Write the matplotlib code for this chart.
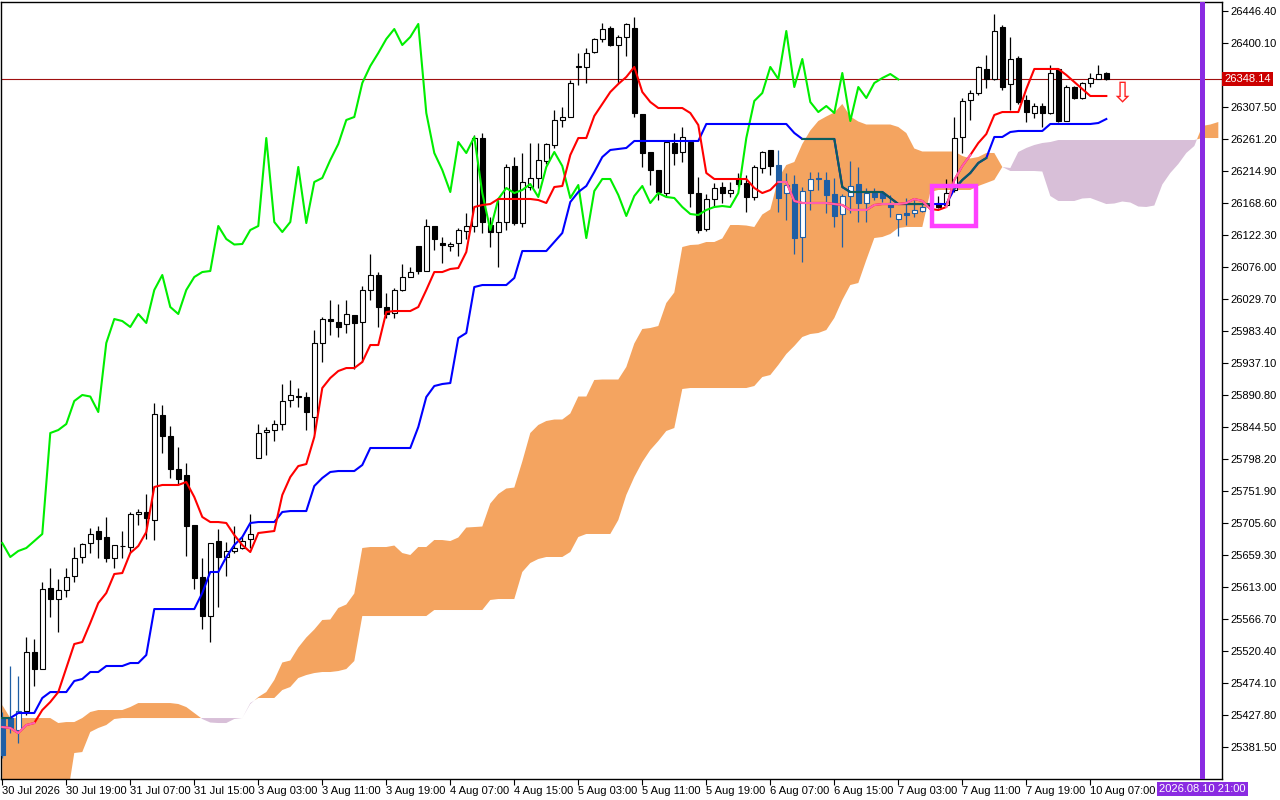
import numpy as np
import matplotlib
matplotlib.use('Agg')
import matplotlib.pyplot as plt
from matplotlib.patches import Rectangle

plt.rcParams['font.family'] = ['Liberation Sans', 'DejaVu Sans']

# H1 candles, bar 0 = 30 Jul 2026 ... bar 138 = 10 Aug 09:00
opens = [
    25424.1, 25424.1, 25406.8, 25434.3, 25519.6, 25495.0, 25612.2, 25596.3, 25609.3, 25629.6,
    25657.1, 25677.3, 25694.7, 25686.0, 25655.6, 25672.3, 25671.5, 25719.3, 25722.2, 25710.6,
    25862.5, 25832.2, 25784.4, 25775.7, 25703.4, 25628.1, 25571.7, 25680.2, 25657.1, 25665.8,
    25670.1, 25683.1, 25800.3, 25837.9, 25840.8, 25849.5, 25884.2, 25890.0, 25888.6, 25859.6,
    25966.7, 26001.4, 25997.1, 25994.2, 26007.2, 25997.1, 26043.4, 26065.1, 26018.8, 26010.1,
    26043.4, 26062.2, 26107.1, 26070.9, 26136.0, 26111.4, 26107.1, 26111.4, 26128.8, 26136.0,
    26263.3, 26137.4, 26127.3, 26141.8, 26222.8, 26140.3, 26192.4, 26205.5, 26230.0, 26253.2,
    26289.4, 26293.7, 26366.1, 26366.1, 26387.8, 26406.6, 26422.5, 26397.9, 26409.5, 26422.5,
    26298.1, 26243.1, 26217.0, 26183.7, 26256.1, 26243.1, 26257.5, 26183.7, 26131.7, 26175.1,
    26192.4, 26183.7, 26204.0, 26198.2, 26178.0, 26219.9, 26246.0, 26224.3, 26183.7, 26196.8,
    26120.1, 26188.1, 26205.5, 26202.6, 26182.3, 26153.4, 26179.4, 26196.8, 26169.3, 26183.7,
    26183.7, 26169.3, 26146.1, 26154.8, 26154.8, 26157.7, 26166.4, 26169.3, 26166.4, 26188.1,
    26264.8, 26318.3, 26328.4, 26363.2, 26348.7, 26423.9, 26341.5, 26379.1, 26318.3, 26299.5,
    26309.6, 26299.5, 26363.2, 26287.9, 26337.1, 26321.2, 26342.9, 26348.7, 26357.4]
highs = [
    25432.8, 25499.4, 25484.9, 25541.3, 25538.4, 25620.9, 25641.2, 25625.2, 25641.2, 25671.5,
    25677.3, 25699.0, 25701.9, 25715.0, 25674.4, 25694.7, 25722.2, 25726.5, 25748.2, 25879.9,
    25877.0, 25846.6, 25816.2, 25793.1, 25703.4, 25655.6, 25677.3, 25697.6, 25678.8, 25701.9,
    25686.0, 25719.3, 25849.5, 25845.2, 25855.3, 25907.4, 25913.2, 25901.6, 25895.8, 25985.5,
    26004.3, 26028.9, 26023.1, 26028.9, 26007.2, 26049.2, 26095.5, 26069.4, 26039.1, 26046.3,
    26081.0, 26076.7, 26107.1, 26146.1, 26136.0, 26120.1, 26112.9, 26133.1, 26154.8, 26267.7,
    26270.6, 26149.0, 26173.6, 26225.7, 26235.8, 26241.6, 26256.1, 26256.1, 26256.1, 26303.8,
    26308.2, 26347.2, 26386.3, 26393.5, 26408.0, 26429.7, 26425.4, 26412.4, 26429.7, 26438.4,
    26298.1, 26243.1, 26217.0, 26260.4, 26270.6, 26279.2, 26257.5, 26206.9, 26182.3, 26198.2,
    26199.7, 26199.7, 26212.7, 26209.8, 26224.3, 26244.5, 26246.0, 26246.0, 26212.7, 26209.8,
    26192.4, 26214.1, 26214.1, 26214.1, 26205.5, 26182.3, 26230.0, 26221.4, 26191.0, 26191.0,
    26186.6, 26180.9, 26153.4, 26176.5, 26173.6, 26167.8, 26169.3, 26179.4, 26204.0, 26293.7,
    26321.2, 26332.8, 26367.5, 26383.4, 26442.7, 26426.8, 26409.5, 26382.0, 26325.5, 26314.0,
    26314.0, 26369.0, 26364.6, 26340.0, 26338.6, 26344.4, 26357.4, 26369.0, 26358.8]
lows = [
    25366.2, 25402.4, 25388.0, 25428.5, 25470.4, 25495.0, 25570.3, 25548.6, 25599.2, 25620.9,
    25648.4, 25662.9, 25655.6, 25649.8, 25641.2, 25655.6, 25662.9, 25703.4, 25683.1, 25681.7,
    25807.6, 25771.4, 25762.7, 25658.5, 25610.8, 25552.9, 25534.1, 25584.7, 25629.6, 25662.9,
    25668.7, 25670.1, 25800.3, 25804.7, 25824.9, 25840.8, 25874.1, 25874.1, 25840.8, 25836.5,
    25939.2, 25978.3, 25975.4, 25981.2, 25929.1, 25939.2, 26028.9, 25989.9, 26002.9, 26002.9,
    26042.0, 26062.2, 26066.6, 26070.9, 26101.3, 26082.5, 26099.8, 26092.6, 26117.2, 26127.3,
    26125.9, 26105.6, 26076.7, 26130.2, 26137.4, 26134.6, 26188.1, 26191.0, 26225.7, 26248.9,
    26279.2, 26293.7, 26340.0, 26342.9, 26386.3, 26402.2, 26396.4, 26342.9, 26382.0, 26293.7,
    26221.4, 26195.3, 26173.6, 26178.0, 26224.3, 26228.6, 26163.5, 26125.9, 26128.8, 26163.5,
    26169.3, 26178.0, 26192.4, 26156.3, 26173.6, 26212.7, 26209.8, 26156.3, 26144.7, 26095.5,
    26083.9, 26159.2, 26188.1, 26154.8, 26134.6, 26105.6, 26154.8, 26141.8, 26141.8, 26173.6,
    26170.7, 26149.0, 26121.5, 26137.4, 26149.0, 26156.3, 26162.0, 26162.0, 26164.9, 26185.2,
    26241.6, 26289.4, 26325.5, 26335.7, 26347.2, 26332.8, 26303.8, 26312.5, 26286.5, 26292.3,
    26279.2, 26298.1, 26286.5, 26287.9, 26319.8, 26319.8, 26337.1, 26348.7, 26347.2]
closes = [
    25370.6, 25409.7, 25434.3, 25519.6, 25495.0, 25610.8, 25596.3, 25609.3, 25628.1, 25655.6,
    25675.9, 25690.4, 25683.1, 25655.6, 25674.4, 25673.0, 25719.3, 25722.2, 25713.5, 25864.0,
    25832.2, 25784.4, 25769.9, 25701.9, 25626.7, 25571.7, 25677.3, 25657.1, 25665.8, 25670.1,
    25680.2, 25690.4, 25836.5, 25840.8, 25849.5, 25882.8, 25891.5, 25889.3, 25866.9, 25966.7,
    26001.4, 25998.5, 25989.9, 26008.7, 25995.7, 26043.4, 26065.1, 26018.8, 26008.7, 26043.4,
    26062.2, 26069.4, 26070.9, 26136.0, 26117.2, 26109.2, 26110.0, 26130.2, 26136.0, 26263.3,
    26141.8, 26127.3, 26141.8, 26221.4, 26140.3, 26199.7, 26205.5, 26231.5, 26254.6, 26289.4,
    26293.7, 26342.9, 26367.5, 26386.3, 26406.6, 26421.0, 26397.9, 26409.5, 26428.3, 26299.5,
    26241.6, 26217.0, 26185.2, 26257.5, 26241.6, 26264.8, 26183.7, 26130.2, 26175.1, 26191.0,
    26183.7, 26188.1, 26196.8, 26178.0, 26221.4, 26243.1, 26222.8, 26176.5, 26195.3, 26118.6,
    26186.6, 26204.0, 26204.0, 26180.9, 26150.5, 26179.4, 26193.9, 26169.3, 26183.7, 26178.0,
    26176.5, 26163.5, 26153.4, 26151.9, 26159.2, 26163.5, 26164.9, 26163.5, 26183.7, 26263.3,
    26316.9, 26328.4, 26366.1, 26348.7, 26418.1, 26337.1, 26377.6, 26315.4, 26300.9, 26309.6,
    26299.5, 26357.4, 26287.9, 26337.1, 26321.2, 26342.9, 26350.1, 26355.9, 26348.14]

# Ichimoku lines
tenkan = [
    25411.1, 25409.7, 25402.4, 25414.0, 25416.9, 25435.7, 25447.3, 25461.7, 25496.5, 25531.2,
    25534.1, 25561.6, 25590.5, 25605.0, 25632.5, 25633.9, 25662.9, 25673.0, 25693.2, 25758.4,
    25761.3, 25761.3, 25761.3, 25765.6, 25743.9, 25715.0, 25707.7, 25707.7, 25706.3, 25688.9,
    25674.4, 25664.3, 25691.8, 25693.2, 25694.7, 25746.8, 25772.8, 25788.7, 25791.6, 25830.7,
    25901.6, 25916.1, 25926.2, 25930.5, 25930.5, 25939.2, 25963.8, 25963.8, 26011.6, 26013.0,
    26013.0, 26013.0, 26018.8, 26043.4, 26069.4, 26069.4, 26073.8, 26075.2, 26098.4, 26163.5,
    26166.4, 26167.8, 26175.1, 26175.1, 26175.1, 26175.1, 26175.1, 26173.6, 26169.3, 26192.4,
    26193.9, 26238.7, 26263.3, 26263.3, 26295.2, 26312.5, 26329.9, 26341.5, 26351.6, 26366.1,
    26329.9, 26315.4, 26306.7, 26306.7, 26306.7, 26306.7, 26299.5, 26282.1, 26212.7, 26204.0,
    26204.0, 26204.0, 26204.0, 26204.0, 26191.0, 26183.7, 26188.1, 26199.7, 26199.7, 26172.2,
    26169.3, 26169.3, 26169.3, 26169.3, 26167.8, 26166.4, 26159.2, 26159.2, 26159.2, 26166.4,
    26167.8, 26167.8, 26167.8, 26169.3, 26175.1, 26172.2, 26160.6, 26159.2, 26163.5, 26202.6,
    26222.8, 26238.7, 26256.1, 26269.1, 26296.6, 26300.9, 26300.9, 26300.9, 26334.2, 26363.2,
    26363.2, 26363.2, 26363.2, 26354.5, 26344.4, 26334.2, 26324.1, 26324.1, 26324.1]
kijun = [
    25424.1, 25424.1, 25431.4, 25431.4, 25431.4, 25453.1, 25461.7, 25461.7, 25461.7, 25477.7,
    25480.6, 25490.7, 25490.7, 25499.4, 25499.4, 25499.4, 25503.7, 25503.7, 25515.3, 25581.8,
    25581.8, 25581.8, 25581.8, 25581.8, 25581.8, 25605.0, 25635.4, 25635.4, 25657.1, 25674.4,
    25686.0, 25706.3, 25707.7, 25707.7, 25707.7, 25722.2, 25723.6, 25723.6, 25723.6, 25759.8,
    25771.4, 25780.1, 25781.5, 25781.5, 25781.5, 25790.2, 25814.8, 25814.8, 25814.8, 25814.8,
    25814.8, 25814.8, 25845.2, 25888.6, 25904.5, 25907.4, 25908.8, 25973.9, 25981.2, 26047.7,
    26050.6, 26050.6, 26050.6, 26050.6, 26060.8, 26099.8, 26099.8, 26099.8, 26099.8, 26112.9,
    26125.9, 26170.7, 26185.2, 26193.9, 26214.1, 26235.8, 26246.0, 26247.4, 26248.9, 26259.0,
    26259.0, 26259.0, 26259.0, 26259.0, 26259.0, 26259.0, 26259.0, 26259.0, 26283.6, 26283.6,
    26283.6, 26283.6, 26283.6, 26283.6, 26283.6, 26283.6, 26283.6, 26283.6, 26283.6, 26270.6,
    26261.9, 26261.9, 26261.9, 26261.9, 26261.9, 26192.4, 26185.2, 26185.2, 26185.2, 26185.2,
    26185.2, 26176.5, 26167.8, 26167.8, 26167.8, 26167.8, 26167.8, 26167.8, 26167.8, 26189.5,
    26202.6, 26212.7, 26227.2, 26234.4, 26264.8, 26264.8, 26272.0, 26273.5, 26273.5, 26273.5,
    26273.5, 26283.6, 26283.6, 26283.6, 26283.6, 26283.6, 26283.6, 26285.0, 26290.8]

# span A for the first 26 bars (comes from history before the window)
senkou_a_early = [
    25442.9, 25424.1, 25424.1, 25424.1, 25424.1, 25424.1, 25424.1, 25416.9, 25418.3, 25418.3,
    25424.1, 25432.8, 25435.7, 25435.7, 25435.7, 25435.7, 25440.0, 25445.8, 25445.8, 25445.8,
    25445.8, 25445.8, 25444.4, 25440.0, 25431.4, 25422.7]
senkou_b = [
    25300.0, 25300.0, 25300.0, 25300.0, 25300.0, 25300.0, 25300.0, 25300.0, 25300.0, 25373.5,
    25374.9, 25403.9, 25409.7, 25414.0, 25422.7, 25424.1, 25424.1, 25424.1, 25424.1, 25424.1,
    25424.1, 25424.1, 25424.1, 25424.1, 25424.1, 25424.1, 25424.1, 25424.1, 25424.1, 25424.1,
    25424.1, 25445.8, 25453.1, 25453.1, 25453.1, 25464.6, 25469.0, 25482.0, 25486.3, 25489.2,
    25490.7, 25490.7, 25492.1, 25495.0, 25506.6, 25571.7, 25571.7, 25571.7, 25571.7, 25571.7,
    25571.7, 25571.7, 25571.7, 25571.7, 25580.4, 25580.4, 25580.4, 25580.4, 25580.4, 25580.4,
    25580.4, 25594.9, 25596.3, 25596.3, 25596.3, 25635.4, 25648.4, 25654.2, 25657.1, 25657.1,
    25657.1, 25664.3, 25686.0, 25690.4, 25690.4, 25690.4, 25690.4, 25710.6, 25746.8, 25772.8,
    25794.5, 25811.9, 25824.9, 25839.4, 25843.7, 25900.2, 25901.6, 25901.6, 25901.6, 25901.6,
    25901.6, 25901.6, 25901.6, 25901.6, 25904.5, 25917.5, 25920.4, 25934.9, 25950.8, 25962.4,
    25975.4, 25979.7, 25981.2, 25985.5, 26002.9, 26028.9, 26050.6, 26053.5, 26086.8, 26118.6,
    26120.1, 26124.4, 26133.1, 26134.6, 26134.6, 26134.6, 26185.2, 26188.1, 26188.1, 26188.1,
    26188.1, 26188.1, 26193.9, 26198.2, 26202.6, 26221.4, 26219.9, 26243.1, 26248.9, 26253.2,
    26256.1, 26257.5, 26260.4, 26260.4, 26260.4, 26260.4, 26260.4, 26260.4, 26260.4, 26260.4,
    26260.4, 26260.4, 26260.4, 26260.4, 26260.4, 26260.4, 26260.4, 26260.4, 26260.4, 26260.4,
    26263.3, 26263.3, 26263.3]

# bars where the helper indicator recolours things
candle_marked = [(0, 2), (97, 115)]
tenkan_marked = [(0, 4), (97, 116), (118, 121)]
kijun_marked = [(0, 1), (100, 116), (119, 123)]

price_ticks = [26446.40, 26400.10, 26353.80, 26307.50, 26261.20, 26214.90, 26168.60, 26122.30,
               26076.00, 26029.70, 25983.40, 25937.10, 25890.80, 25844.50, 25798.20, 25751.90,
               25705.60, 25659.30, 25613.00, 25566.70, 25520.40, 25474.10, 25427.80, 25381.50]
time_ticks = [0, 8, 16, 24, 32, 40, 48, 56, 64, 72, 80, 88, 96, 104, 112, 120, 128, 136]
time_labels = ['30 Jul 2026', '30 Jul 19:00', '31 Jul 07:00', '31 Jul 15:00', '3 Aug 03:00',
               '3 Aug 11:00', '3 Aug 19:00', '4 Aug 07:00', '4 Aug 15:00', '5 Aug 03:00',
               '5 Aug 11:00', '5 Aug 19:00', '6 Aug 07:00', '6 Aug 15:00', '7 Aug 03:00',
               '7 Aug 11:00', '7 Aug 19:00', '10 Aug 07:00']

vline_bar = 150
vline_label = '2026.08.10 21:00'
box_bars = (116.2, 121.7)
box_prices = (26136.0, 26193.9)
signal_bar = 140
signal_price = 26327.0

o = np.array(opens)
h = np.array(highs)
l = np.array(lows)
c = np.array(closes)
n = len(c)
bars = np.arange(n)

fig = plt.figure(figsize=(12.8, 8), dpi=100)
ax = fig.add_axes([1 / 1280, 21 / 800, 1221 / 1280, 777 / 800])
ax.set_xlim(-0.16, 152.46)
ax.set_ylim(25335.9, 26460.1)

# cloud: span A = (tenkan + kijun)/2 pushed 26 bars ahead
span_b = np.array(senkou_b)
span_a = np.concatenate([senkou_a_early, (np.array(tenkan) + np.array(kijun)) / 2])[:len(span_b)]
cx = np.arange(len(span_b))
ax.fill_between(cx, span_a, span_b, where=span_a >= span_b, interpolate=True,
                color='#f4a460', lw=0, zorder=1)
ax.fill_between(cx, span_a, span_b, where=span_a < span_b, interpolate=True,
                color='#d8bfd8', lw=0, zorder=1)

# candles
marked = np.zeros(n, bool)
for a, b in candle_marked:
    marked[a:b + 1] = True
edge = np.where(marked, '#1f5fa5', 'black')
face = np.where(c >= o, 'white', edge)
ax.vlines(bars, l, h, colors=edge, lw=0.9, zorder=3)
ax.bar(bars, np.maximum(np.abs(c - o), 0.5), bottom=np.minimum(o, c), width=0.62,
       color=face, edgecolor=edge, linewidth=0.8, zorder=4)


def draw_line(x, y, col, mark_col, runs, z):
    x = np.asarray(x)
    y = np.asarray(y)
    ax.plot(x, y, color=col, lw=1.5, zorder=z)
    for a, b in runs:
        ax.plot(x[a:b + 1], y[a:b + 1], color=mark_col, lw=1.5, zorder=z + 0.1)


# chikou = close drawn 26 bars back
ax.plot(bars[26:] - 26, c[26:], color='#00ee00', lw=1.5, zorder=5)
draw_line(bars, kijun, '#0000ff', '#0d5e5c', kijun_marked, 6)
draw_line(bars, tenkan, '#ff0000', '#ff5fae', tenkan_marked, 6.5)

# current price line and label (the label sits over the 26353.80 scale mark)
ax.axhline(c[-1], color='#a01010', lw=0.8, zorder=2.5)
ax.text(1.002, c[-1], '%.2f' % c[-1], transform=ax.get_yaxis_transform(), ha='left',
        va='center', color='white', fontsize=8, zorder=10, clip_on=False,
        bbox=dict(boxstyle='square,pad=0.18', fc='#cc0000', ec='none'))

# vertical line at future time
ax.axvline(vline_bar, color='#8a2be2', lw=3.6, zorder=7)
ax.text(vline_bar, -0.006, vline_label, transform=ax.get_xaxis_transform(), ha='center',
        va='top', color='white', fontsize=8, zorder=10, clip_on=False,
        bbox=dict(boxstyle='square,pad=0.18', fc='#8a2be2', ec='none'))

ax.add_patch(Rectangle((box_bars[0], box_prices[0]), box_bars[1] - box_bars[0],
                       box_prices[1] - box_prices[0], fill=False, edgecolor='#ff40ff',
                       lw=3.2, zorder=8))
ax.text(signal_bar, signal_price, '\u21e9', family='DejaVu Sans', fontsize=20,
        color='#ff2020', ha='center', va='center', zorder=9)

# axes styling like the terminal
ax.yaxis.tick_right()
ax.set_yticks(price_ticks)
covered = abs(np.array(price_ticks) - c[-1]) < 15
ax.set_yticklabels(['' if hide else '%.2f' % p for p, hide in zip(price_ticks, covered)])
ax.set_xticks(time_ticks)
ax.set_xticklabels(time_labels, ha='left')
ax.tick_params(axis='y', direction='out', length=4, pad=2, labelsize=8)
ax.tick_params(axis='x', direction='out', length=4, pad=1, labelsize=8)
for s in ax.spines.values():
    s.set_color('black')
    s.set_linewidth(1)

fig.savefig('out.png', dpi=100)
